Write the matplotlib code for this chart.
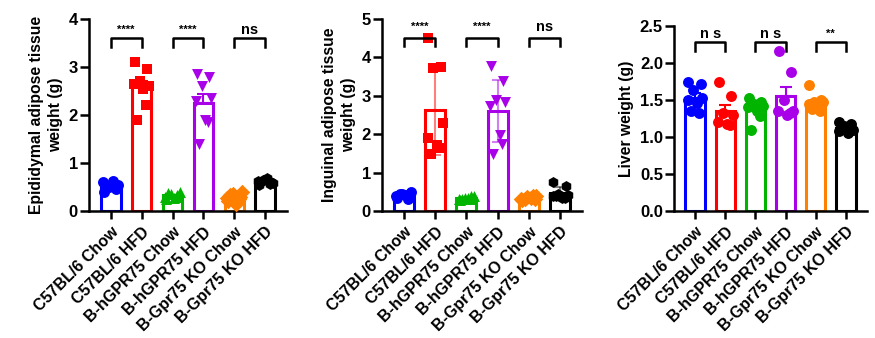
import numpy as np
import matplotlib.pyplot as plt

plt.rcParams['font.family'] = ['Liberation Sans', 'DejaVu Sans']
plt.rcParams['font.weight'] = 'bold'

groups = ['C57BL/6 Chow', 'C57BL/6 HFD', 'B-hGPR75 Chow',
          'B-hGPR75 HFD', 'B-Gpr75 KO Chow', 'B-Gpr75 KO HFD']
colors = ['#0000FF', '#FF0000', '#00B400', '#A800E8', '#FF8000', '#000000']
markers = ['o', 's', '^', 'v', 'D', 'h']

# individual animals, grams
epididymal = [
    [0.40, 0.45, 0.50, 0.55, 0.60, 0.62, 0.52, 0.48],
    [3.10, 2.95, 2.70, 2.60, 2.65, 2.55, 2.20, 1.90],
    [0.25, 0.30, 0.35, 0.40, 0.30, 0.28, 0.33, 0.38],
    [2.85, 2.80, 2.60, 2.35, 2.30, 1.90, 1.85, 1.40],
    [0.20, 0.30, 0.35, 0.40, 0.28, 0.15, 0.25, 0.33],
    [0.55, 0.60, 0.65, 0.58, 0.62, 0.68, 0.56, 0.60],
]
inguinal = [
    [0.35, 0.40, 0.45, 0.50, 0.38, 0.42, 0.30, 0.44],
    [4.50, 3.75, 3.72, 2.30, 1.90, 1.72, 1.65, 1.48],
    [0.28, 0.32, 0.35, 0.40, 0.30, 0.34, 0.38, 0.31],
    [3.78, 3.39, 2.89, 2.85, 2.73, 1.98, 1.74, 1.48],
    [0.28, 0.32, 0.36, 0.40, 0.30, 0.34, 0.38, 0.31],
    [0.75, 0.65, 0.45, 0.42, 0.38, 0.35, 0.35, 0.40],
]
liver = [
    [1.75, 1.72, 1.64, 1.53, 1.50, 1.46, 1.32, 1.35],
    [1.75, 1.55, 1.32, 1.30, 1.20, 1.17, 1.16],
    [1.53, 1.48, 1.45, 1.42, 1.40, 1.35, 1.28, 1.10],
    [2.17, 1.88, 1.50, 1.35, 1.35, 1.30, 1.32],
    [1.70, 1.50, 1.48, 1.48, 1.45, 1.42, 1.35, 1.38],
    [1.20, 1.18, 1.15, 1.10, 1.08, 1.05, 1.10, 1.12],
]

epi_sig = ['****', '****', 'ns']
ing_sig = ['****', '****', 'ns']
liv_sig = ['n s', 'n s', '**']

# horizontal scatter of points inside each bar
spread = [-0.22, 0.18, -0.06, 0.24, -0.24, 0.06, 0.14, -0.14]

x = np.arange(len(groups))


def panel(ax, data, ylabel, ymax, yticks, fmt, err, sig, sig_y, leg, txt_y, markset):
    means = [np.mean(d) for d in data]
    sds = [np.std(d, ddof=1) for d in data]
    sems = [s / np.sqrt(len(d)) for s, d in zip(sds, data)]
    ax.bar(x, means, width=0.64, color='white', edgecolor=colors,
           linewidth=2.2, zorder=2)
    for i, d in enumerate(data):
        ax.scatter(x[i] + np.array(spread[:len(d)]), d, s=62, color=colors[i],
                   marker=markset[i], zorder=3, linewidths=0)
        if err == 'sd':
            ax.errorbar(x[i], means[i], yerr=sds[i], color=colors[i], alpha=0.5,
                        capsize=4, elinewidth=1.5, capthick=1.5, zorder=4)
        else:
            ax.errorbar(x[i], means[i], yerr=[[0], [sems[i]]], color=colors[i],
                        capsize=4, elinewidth=1.5, capthick=1.5, zorder=4)
    for k, s in enumerate(sig):
        x0, x1 = 2 * k, 2 * k + 1
        ax.plot([x0, x0, x1, x1], [sig_y - leg, sig_y, sig_y, sig_y - leg],
                color='black', lw=1.8, zorder=5)
        size = 8 if '*' in s else 10.5
        ax.text((x0 + x1) / 2, txt_y, s, ha='center', va='center',
                fontsize=size, fontweight='bold')
    ax.set_xlim(-0.7, 5.7)
    ax.set_ylim(0, ymax)
    ax.set_yticks(yticks)
    ax.set_yticklabels([fmt.format(t) for t in yticks])
    ax.set_xticks(x)
    ax.set_xticklabels(groups, rotation=45, ha='right', rotation_mode='anchor')
    ax.set_ylabel(ylabel, fontsize=11.3, fontweight='bold', labelpad=4,
                  linespacing=1.35)
    for side in ['top', 'right']:
        ax.spines[side].set_visible(False)
    for side in ['left', 'bottom']:
        ax.spines[side].set_linewidth(1.8)
    ax.tick_params(width=1.8, length=6.5, labelsize=12)
    ax.tick_params(axis='y', pad=1.5)
    ax.tick_params(axis='x', labelsize=11.5, pad=4, length=5.5)


fig = plt.figure(figsize=(8.75, 3.38), dpi=100)
ax1 = fig.add_axes([0.1017, 0.3757, 0.2263, 0.568])
ax2 = fig.add_axes([0.4366, 0.3757, 0.2286, 0.568])
ax3 = fig.add_axes([0.7703, 0.3757, 0.2206, 0.547])

panel(ax1, epididymal, 'Epididymal adipose tissue\nweight (g)', 4, [0, 1, 2, 3, 4],
      '{:.0f}', 'sem', epi_sig, 3.6, 0.18, 3.77, markers)
panel(ax2, inguinal, 'Inguinal adipose tissue\nweight (g)', 5, [0, 1, 2, 3, 4, 5],
      '{:.0f}', 'sd', ing_sig, 4.51, 0.21, 4.8, markers)
panel(ax3, liver, 'Liver weight (g)', 2.5, [0, 0.5, 1.0, 1.5, 2.0, 2.5],
      '{:.1f}', 'sem', liv_sig, 2.28, 0.11, 2.4, ['o'] * 6)

fig.savefig('out.png', dpi=100)
